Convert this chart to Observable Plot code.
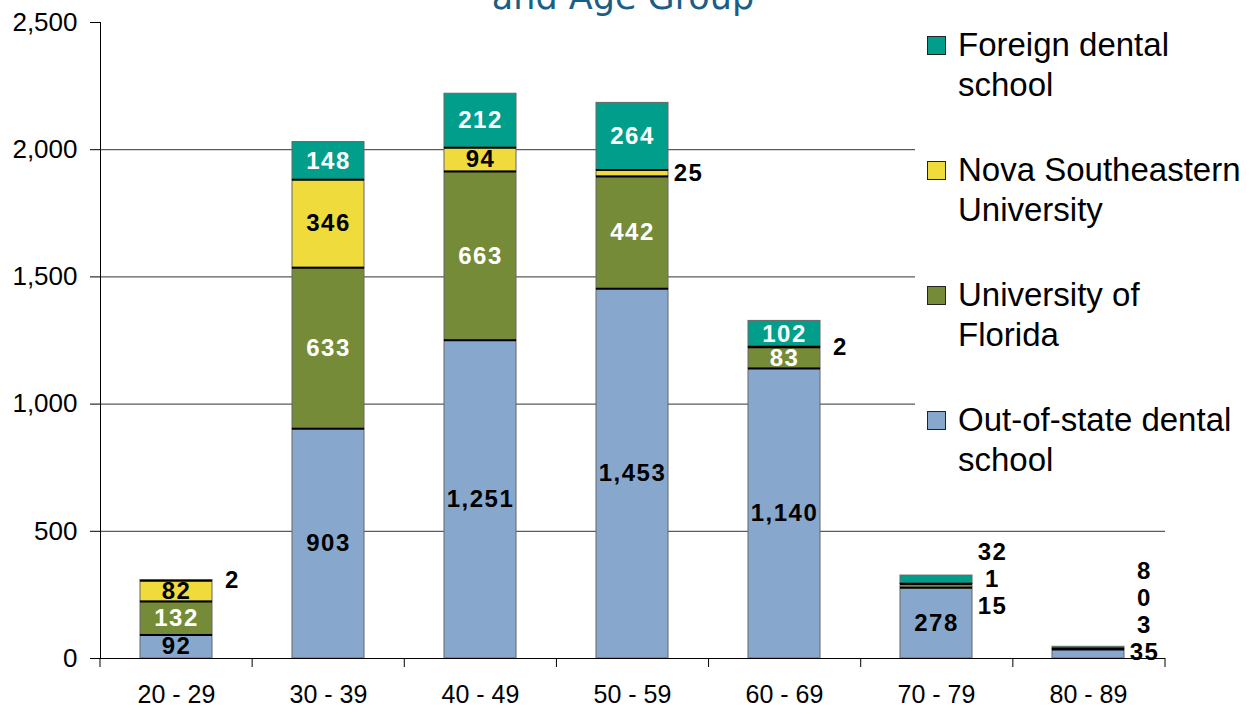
<!DOCTYPE html>
<html>
<head>
<meta charset="utf-8">
<script src="https://cdn.jsdelivr.net/npm/d3@7"></script>
<script src="https://cdn.jsdelivr.net/npm/@observablehq/plot@0.6"></script>
<style>
  body { margin: 0; background: #fff; font-family: "Liberation Sans", Arial, sans-serif; }
  #wrap { position: relative; width: 1252px; height: 714px; overflow: hidden; background: #fff; }
  #title { position: absolute; left: 0; top: -20px; width: 1246px; text-align: center;
           font-family: "DejaVu Sans", sans-serif; font-size: 35px; line-height: 34px; color: #1a5e86; white-space: nowrap; }
  #legend { position: absolute; left: 915px; top: 18px; width: 337px; height: 462px; background: #fff; }
  .item { position: absolute; left: 0; width: 337px; font-size: 33px; line-height: 40px; color: #000; white-space: nowrap; }
  .sw { position: absolute; left: 12px; top: 11px; width: 17px; height: 17px; border: 1px solid #222; }
  .lab { position: absolute; left: 43px; top: 0; }
  #chart svg g[aria-label="text"] text { letter-spacing: 1.5px; }
</style>
</head>
<body>
<div id="wrap">
  <div id="chart"></div>
  <div id="title"></div>
  <div id="legend"></div>
</div>
<script>
// ---- data ----
const titleText = "and Age Group";
const ageGroups = ["20 - 29", "30 - 39", "40 - 49", "50 - 59", "60 - 69", "70 - 79", "80 - 89"];
const schools = ["Out-of-state dental school", "University of Florida", "Nova Southeastern University", "Foreign dental school"];
const outOfState = [92, 903, 1251, 1453, 1140, 278, 35];
const univFlorida = [132, 633, 663, 442, 83, 15, 3];
const novaSoutheastern = [82, 346, 94, 25, 2, 1, 0];
const foreignSchool = [2, 148, 212, 264, 102, 32, 8];
const yTicks = [0, 500, 1000, 1500, 2000, 2500];
const schoolColors = ["#87a8cc", "#758b38", "#efdc3c", "#009e8b"];
const labelColors = ["#000", "#fff", "#000", "#fff"];
const legendOrder = ["Foreign dental school", "Nova Southeastern University", "University of Florida", "Out-of-state dental school"];
const legendLines = {
  "Foreign dental school": ["Foreign dental", "school"],
  "Nova Southeastern University": ["Nova Southeastern", "University"],
  "University of Florida": ["University of", "Florida"],
  "Out-of-state dental school": ["Out-of-state dental", "school"]
};

// ---- layout ----
const W = 1252, H = 714;
const mL = 100, mR = 87, mT = 22, mB = 56;
const insideMin = 80;

const series = [outOfState, univFlorida, novaSoutheastern, foreignSchool];
const rows = [];
schools.forEach((s, k) => ageGroups.forEach((a, i) => rows.push({age: a, school: s, k, value: series[k][i]})));

// manual stack (for label placement)
ageGroups.forEach(a => {
  let acc = 0;
  rows.filter(r => r.age === a).sort((p, q) => p.k - q.k).forEach(r => {
    r.y1 = acc; r.y2 = acc + r.value; r.mid = acc + r.value / 2; acc = r.y2;
  });
});

const yPx = d3.scaleLinear([0, 2500], [H - mB, mT]);
const fmt = d3.format(",");
const inside = rows.filter(r => r.value >= insideMin);
const outside = rows.filter(r => r.value < insideMin);

// place outside labels, dodging so they don't overlap
const gap = 27;
ageGroups.forEach(a => {
  const grp = outside.filter(r => r.age === a).sort((p, q) => p.k - q.k);
  if (!grp.length) return;
  const p = grp.map(r => yPx(r.mid));
  const q = [];
  p.forEach((v, i) => q.push(i === 0 ? v : Math.min(v, q[i - 1] - gap)));
  if (grp.length > 1) {
    const shift = d3.mean(p) - d3.mean(q) - 4;
    for (let i = 0; i < q.length; i++) q[i] += shift;
  }
  const lim = yPx(0) - 6;
  if (q[0] > lim) { const s = lim - q[0]; for (let i = 0; i < q.length; i++) q[i] += s; }
  grp.forEach((r, i) => r.labelY = yPx.invert(q[i]));
});

const boundaryTicks = (index, scales, values, dim) => {
  const g = d3.create("svg:g");
  const n = ageGroups.length;
  const step = (dim.width - dim.marginLeft - dim.marginRight) / n;
  const y0 = dim.height - dim.marginBottom;
  for (let i = 0; i <= n; i++) {
    const x = dim.marginLeft + i * step;
    g.append("line").attr("x1", x).attr("x2", x).attr("y1", y0).attr("y2", y0 + 9)
      .attr("stroke", "#000").attr("stroke-width", 1);
  }
  return g.node();
};

const chart = Plot.plot({
  width: W, height: H,
  marginLeft: mL, marginRight: mR, marginTop: mT, marginBottom: mB,
  style: {fontFamily: "'Liberation Sans', Arial, sans-serif", fontSize: "25px", background: "transparent", color: "#000"},
  x: {domain: ageGroups, paddingInner: 0.526, paddingOuter: 0.263, label: null},
  y: {domain: [0, 2500], label: null},
  color: {domain: schools, range: schoolColors},
  marks: [
    Plot.ruleY(yTicks.filter(d => d > 0 && d < 2500), {stroke: "#333", strokeWidth: 1}),
    Plot.barY(rows, Plot.stackY({x: "age", y: "value", fill: "school", z: "school", stroke: "#666", strokeWidth: 1})),
    // black separators at the boundaries between stacked segments
    Plot.tickY(rows, Plot.stackY2({x: "age", y: "value", z: "school", filter: d => d.k < schools.length - 1, stroke: "#000", strokeWidth: 2})),
    Plot.text(inside.filter(r => labelColors[r.k] === "#000"), {x: "age", y: "mid", text: d => fmt(d.value), fill: "#000", fontWeight: "bold", fontSize: 24}),
    Plot.text(inside.filter(r => labelColors[r.k] === "#fff"), {x: "age", y: "mid", text: d => fmt(d.value), fill: "#fff", fontWeight: "bold", fontSize: 24}),
    Plot.text(outside, {x: "age", y: "labelY", text: d => fmt(d.value), fill: "#000", fontWeight: "bold", fontSize: 24, dx: 56}),
    Plot.ruleY([0], {stroke: "#000", strokeWidth: 1}),
    Plot.frame({anchor: "left", stroke: "#000"}),
    boundaryTicks,
    Plot.axisY({ticks: yTicks, tickSize: 10, tickPadding: 13, tickFormat: fmt, fontSize: 26, stroke: "#000"}),
    Plot.axisX({tickSize: 0, tickPadding: 27, fontSize: 25})
  ]
});
document.getElementById("chart").appendChild(chart);

document.getElementById("title").textContent = titleText;

const legend = document.getElementById("legend");
legendOrder.forEach((s, i) => {
  const item = document.createElement("div");
  item.className = "item";
  item.style.top = (7 + i * 125) + "px";
  const sw = document.createElement("div");
  sw.className = "sw";
  sw.style.background = schoolColors[schools.indexOf(s)];
  const lab = document.createElement("div");
  lab.className = "lab";
  lab.innerHTML = legendLines[s].join("<br>");
  item.appendChild(sw); item.appendChild(lab);
  legend.appendChild(item);
});
</script>
</body>
</html>
